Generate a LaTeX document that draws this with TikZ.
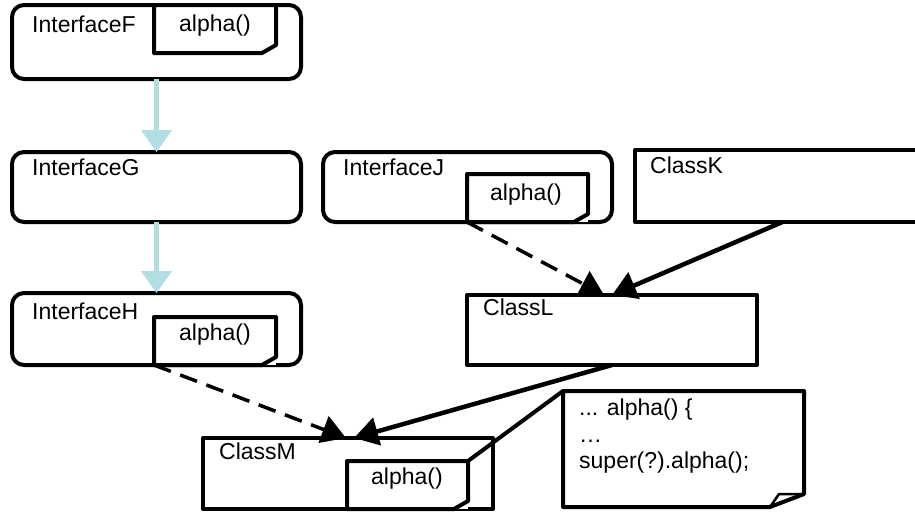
\documentclass[tikz,border=0pt]{standalone}
\usepackage{fontspec}
\setmainfont{Liberation Sans}
\usetikzlibrary{arrows.meta}
\definecolor{inhblue}{RGB}{176,222,226}
\newcommand\foldnote[1]{\draw[boxline] (#1.north west) -- (#1.north east) -- ([yshift=8pt]#1.south east) -- ([xshift=-14pt]#1.south east) -- (#1.south west) -- cycle;}
\tikzset{
  boxline/.style={line width=4pt, line join=round},
  frame/.style={inner sep=0pt, outer sep=0pt},
  ibox/.style={frame, draw, boxline, rounded corners=12pt},
  cbox/.style={frame, draw, boxline},
  lbl/.style={inner sep=0pt, anchor=base west, font=\fontsize{23}{27}\selectfont},
  nlbl/.style={inner sep=0pt, anchor=base, font=\fontsize{23}{27}\selectfont},
  inherit/.style={draw=inhblue, line width=4.5pt, -{Triangle[length=22pt,width=30pt]}},
  realize/.style={line width=3.5pt, dash pattern=on 18pt off 10pt, -{Triangle[length=24pt,width=28pt]}},
  extend/.style={line width=4.5pt, -{Triangle[length=24pt,width=28pt]}},
}
\begin{document}
\begin{tikzpicture}[x=1pt,y=-1pt]
\useasboundingbox (0,0) rectangle (915,512);
\fill[white] (0,0) rectangle (915,512);
% interfaces
\node[ibox, minimum width=289pt, minimum height=74pt] (F) at (156.5,42) {};
\node[ibox, minimum width=289pt, minimum height=70pt] (G) at (156.5,187) {};
\node[ibox, minimum width=289pt, minimum height=72pt] (H) at (156.5,329) {};
\node[ibox, minimum width=289pt, minimum height=70pt] (J) at (467.5,187) {};
% classes
\node[frame, minimum width=295pt, minimum height=72pt] (K) at (782.5,186) {};
\draw[boxline] (K.north east) -- (K.north west) -- (K.south west) -- (K.south east);
\node[cbox, minimum width=290pt, minimum height=70pt] (L) at (612,330) {};
\node[cbox, minimum width=290pt, minimum height=71pt] (M) at (348,473.5) {};
% notes
\node[frame, minimum width=122pt, minimum height=48pt] (nF) at (215,29) {};
\node[frame, minimum width=122pt, minimum height=48pt] (nH) at (215,341) {};
\node[frame, minimum width=121pt, minimum height=48pt] (nJ) at (527.5,198) {};
\node[frame, minimum width=121pt, minimum height=48pt] (nM) at (407.5,485) {};
\node[frame, minimum width=241pt, minimum height=116pt] (code) at (683.5,449) {};
\fill[white] (nF.north west) rectangle (nF.south east);
\fill[white] (nH.north west) rectangle (nH.south east);
\fill[white] (nJ.north west) rectangle (nJ.south east);
\fill[white] (nM.north west) rectangle (nM.south east);
\foldnote{nF}
\foldnote{nH}
\foldnote{nJ}
\foldnote{nM}
\draw[boxline] (code.north west) -- (code.north east) -- ([yshift=13pt]code.south east) -- ([xshift=-34pt]code.south east) -- (code.south west) -- cycle;
\draw[line width=2.5pt, line join=round] ([xshift=-34pt]code.south east) -- ([xshift=-25pt,yshift=13pt]code.south east) -- ([yshift=13pt]code.south east);
% labels
\node[lbl] at (32,32) {InterfaceF};
\node[lbl] at (32,175) {InterfaceG};
\node[lbl] at (32,319) {InterfaceH};
\node[lbl] at (343,175) {InterfaceJ};
\node[lbl] at (650,173) {ClassK};
\node[lbl] at (483,315) {ClassL};
\node[lbl] at (219,459) {ClassM};
\node[nlbl] at (215,31) {alpha()};
\node[nlbl] at (215,340) {alpha()};
\node[nlbl] at (526,200) {alpha()};
\node[nlbl] at (407,484) {alpha()};
\node[lbl] at (579,415) {... alpha() \{};
\node[lbl] at (579,442) {…};
\node[lbl] at (579,468) {super(?).alpha();};
% connectors
\draw[inherit] (F.south) -- (G.north);
\draw[inherit] (G.south) -- (H.north);
\draw[realize] (nJ.south west) -- ([xshift=-8pt]L.north);
\draw[extend] (K.south) -- (L.north);
\draw[realize] (nH.south west) -- ([xshift=-2pt]M.north);
\draw[extend] (L.south) -- ([xshift=6pt]M.north);
\draw[boxline] (code.north west) -- (nM.north east);
\end{tikzpicture}
\end{document}
